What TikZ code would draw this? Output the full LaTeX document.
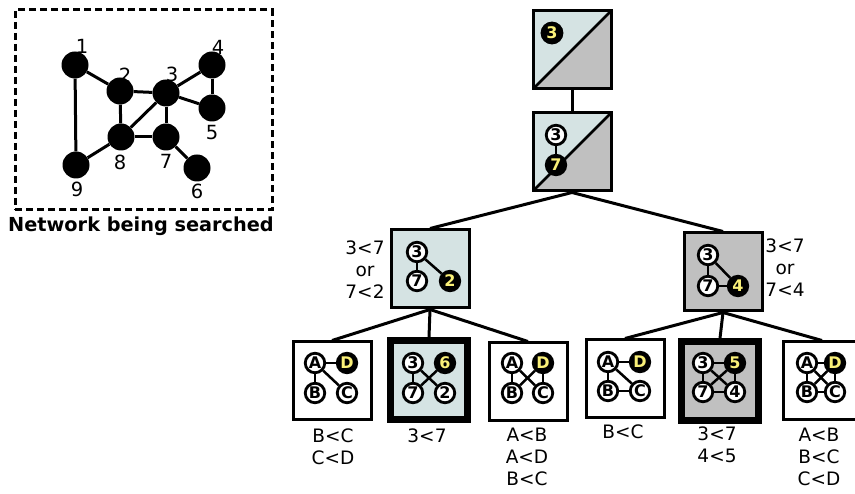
\documentclass[tikz,border=0pt]{standalone}
\usepackage{fontspec}
\setmainfont{DejaVu Sans}
\definecolor{lb}{RGB}{213,227,227}
\definecolor{gy}{RGB}{192,192,192}
\definecolor{yl}{RGB}{250,240,120}
\begin{document}
\begin{tikzpicture}[x=1pt,y=-1pt,
  netnode/.style={circle,fill=black,minimum size=27pt,inner sep=0pt},
  netlab/.style={font=\fontsize{19.5}{19.5}\selectfont,inner sep=0pt},
  netedge/.style={line width=3pt},
  wn/.style={circle,draw,line width=2.8pt,fill=white,minimum size=19.5pt,inner sep=0pt,font=\bfseries\fontsize{16}{16}\selectfont},
  bn/.style={wn,fill=black,text=yl},
  sedge/.style={line width=2.5pt},
  boxnode/.style={draw,line width=3pt,minimum size=78pt,inner sep=0pt},
  thickbox/.style={draw,line width=6.5pt,minimum width=77pt,minimum height=79pt,inner sep=0pt},
  splitbox/.style={boxnode,fill=lb,path picture={
    \fill[gy] (path picture bounding box.south west) -- (path picture bounding box.north east) -- (path picture bounding box.south east) -- cycle;
    \draw[line width=2.5pt] (path picture bounding box.north west |- path picture bounding box.south) -- (path picture bounding box.north east);}},
  tree/.style={line width=3pt},
  lab/.style={align=center,font=\fontsize{18.5}{22}\selectfont,inner sep=0pt}
]
\useasboundingbox (0,0) rectangle (855,494);

% ---------- network ----------
\node[draw,dash pattern=on 7pt off 4pt,line width=3pt,minimum width=257pt,minimum height=200pt,inner sep=0pt] (netbox) at (143.5,110) {};
\node[font=\bfseries\fontsize{19.3}{19.3}\selectfont,inner sep=0pt] (title) at (141,226) {Network being searched};
\node[netnode] (n1) at (75,65) {};
\node[netnode] (n2) at (120,91) {};
\node[netnode] (n3) at (166,93) {};
\node[netnode] (n4) at (212,65) {};
\node[netnode] (n5) at (212,108) {};
\node[netnode] (n7) at (166,137) {};
\node[netnode] (n8) at (121,137) {};
\node[netnode] (n9) at (76,165) {};
\node[netnode] (n6) at (197,168) {};
\draw[netedge] (n1) -- (n2); \draw[netedge] (n1) -- (n9);
\draw[netedge] (n2) -- (n3); \draw[netedge] (n2) -- (n8);
\draw[netedge] (n3) -- (n4); \draw[netedge] (n3) -- (n5);
\draw[netedge] (n4) -- (n5); \draw[netedge] (n3) -- (n7);
\draw[netedge] (n3) -- (n8); \draw[netedge] (n8) -- (n7);
\draw[netedge] (n8) -- (n9); \draw[netedge] (n7) -- (n6);
\node[netlab] (l1) at (82,46) {1};
\node[netlab] (l2) at (125,75) {2};
\node[netlab] (l3) at (172,74) {3};
\node[netlab] (l4) at (218,47) {4};
\node[netlab] (l5) at (212,133) {5};
\node[netlab] (l8) at (120,162) {8};
\node[netlab] (l7) at (166,161) {7};
\node[netlab] (l9) at (77,189) {9};
\node[netlab] (l6) at (197,191) {6};

% ---------- tree boxes ----------
\node[splitbox] (t0) at (572,50) {};
\node[splitbox] (t1) at (572,152) {};
\node[boxnode,fill=lb] (mL) at (430,269) {};
\node[boxnode,fill=gy] (mR) at (723,272) {};
\node[boxnode,fill=white] (b1) at (332,381) {};
\node[thickbox,fill=lb] (b2) at (429,380) {};
\node[boxnode,fill=white] (b3) at (528,382) {};
\node[boxnode,fill=white] (b4) at (625,379) {};
\node[thickbox,fill=gy] (b5) at (720,381) {};
\node[boxnode,fill=white] (b6) at (822,381) {};

\draw[tree] (t0) -- (t1);
\draw[tree] (t1.south) -- (mL.north);
\draw[tree] (t1.south) -- (mR.north);
\draw[tree] (mL.south) -- (b1.north);
\draw[tree] (mL.south) -- (b2.north);
\draw[tree] (mL.south) -- (b3.north);
\draw[tree] (mR.south) -- (b4.north);
\draw[tree] (mR.south) -- (b5.north);
\draw[tree] (mR.south) -- (b6.north);

% top boxes
\node[bn,minimum size=20pt] (t3) at (552,33) {3};
\node[wn] (s3) at (556,135) {3};
\node[bn] (s7) at (556,165) {7};
\draw[sedge] (s3) -- (s7);

% middle left
\node[wn] (a3) at (417,252) {3};
\node[wn] (a7) at (417,281) {7};
\node[bn] (a2) at (450,281) {2};
\draw[sedge] (a3) -- (a7); \draw[sedge] (a3) -- (a2);
\node[lab] (la) at (365,270) {3<7\\or\\7<2};

% middle right
\node[wn] (c3) at (708,255) {3};
\node[wn] (c7) at (708,286) {7};
\node[bn] (c4) at (738,286) {4};
\draw[sedge] (c3) -- (c7); \draw[sedge] (c7) -- (c4); \draw[sedge] (c3) -- (c4);
\node[lab] (lc) at (785,268) {3<7\\or\\7<4};

% b1
\node[wn] (dA) at (315,363) {A};
\node[bn] (dD) at (347,363) {D};
\node[wn] (dB) at (315,393) {B};
\node[wn] (dC) at (347,393) {C};
\draw[sedge] (dA) -- (dD); \draw[sedge] (dA) -- (dB); \draw[sedge] (dA) -- (dC);
\node[lab,anchor=north] (ld) at (333,429) {B<C\\C<D};

% b2
\node[wn] (e3) at (413,363) {3};
\node[bn] (e6) at (445,363) {6};
\node[wn] (e7) at (413,393) {7};
\node[wn] (e2) at (445,393) {2};
\draw[sedge] (e3) -- (e7); \draw[sedge] (e3) -- (e2); \draw[sedge] (e7) -- (e6);
\node[lab,anchor=north] (le) at (427,429) {3<7};

% b3
\node[wn] (fA) at (512,363) {A};
\node[bn] (fD) at (543,363) {D};
\node[wn] (fB) at (512,393) {B};
\node[wn] (fC) at (543,393) {C};
\draw[sedge] (fA) -- (fB); \draw[sedge] (fA) -- (fC); \draw[sedge] (fB) -- (fD); \draw[sedge] (fD) -- (fC);
\node[lab,anchor=north] (lf) at (527,428) {A<B\\A<D\\B<C};

% b4
\node[wn] (gA) at (608,362) {A};
\node[bn] (gD) at (640,362) {D};
\node[wn] (gB) at (608,391) {B};
\node[wn] (gC) at (640,391) {C};
\draw[sedge] (gA) -- (gD); \draw[sedge] (gA) -- (gB); \draw[sedge] (gA) -- (gC); \draw[sedge] (gB) -- (gC);
\node[lab,anchor=north] (lg) at (623,425) {B<C};

% b5
\node[wn] (h3) at (703,363) {3};
\node[bn] (h5) at (735,363) {5};
\node[wn] (h7) at (703,392) {7};
\node[wn] (h4) at (735,392) {4};
\draw[sedge] (h3) -- (h5); \draw[sedge] (h3) -- (h7); \draw[sedge] (h7) -- (h4);
\draw[sedge] (h5) -- (h4); \draw[sedge] (h3) -- (h4); \draw[sedge] (h7) -- (h5);
\node[lab,anchor=north] (lh) at (717,427) {3<7\\4<5};

% b6
\node[wn] (iA) at (807,363) {A};
\node[bn] (iD) at (835,363) {D};
\node[wn] (iB) at (807,392) {B};
\node[wn] (iC) at (835,392) {C};
\draw[sedge] (iA) -- (iD); \draw[sedge] (iA) -- (iB); \draw[sedge] (iB) -- (iC);
\draw[sedge] (iD) -- (iC); \draw[sedge] (iA) -- (iC); \draw[sedge] (iB) -- (iD);
\node[lab,anchor=north] (li) at (819,428) {A<B\\B<C\\C<D};
\end{tikzpicture}
\end{document}
